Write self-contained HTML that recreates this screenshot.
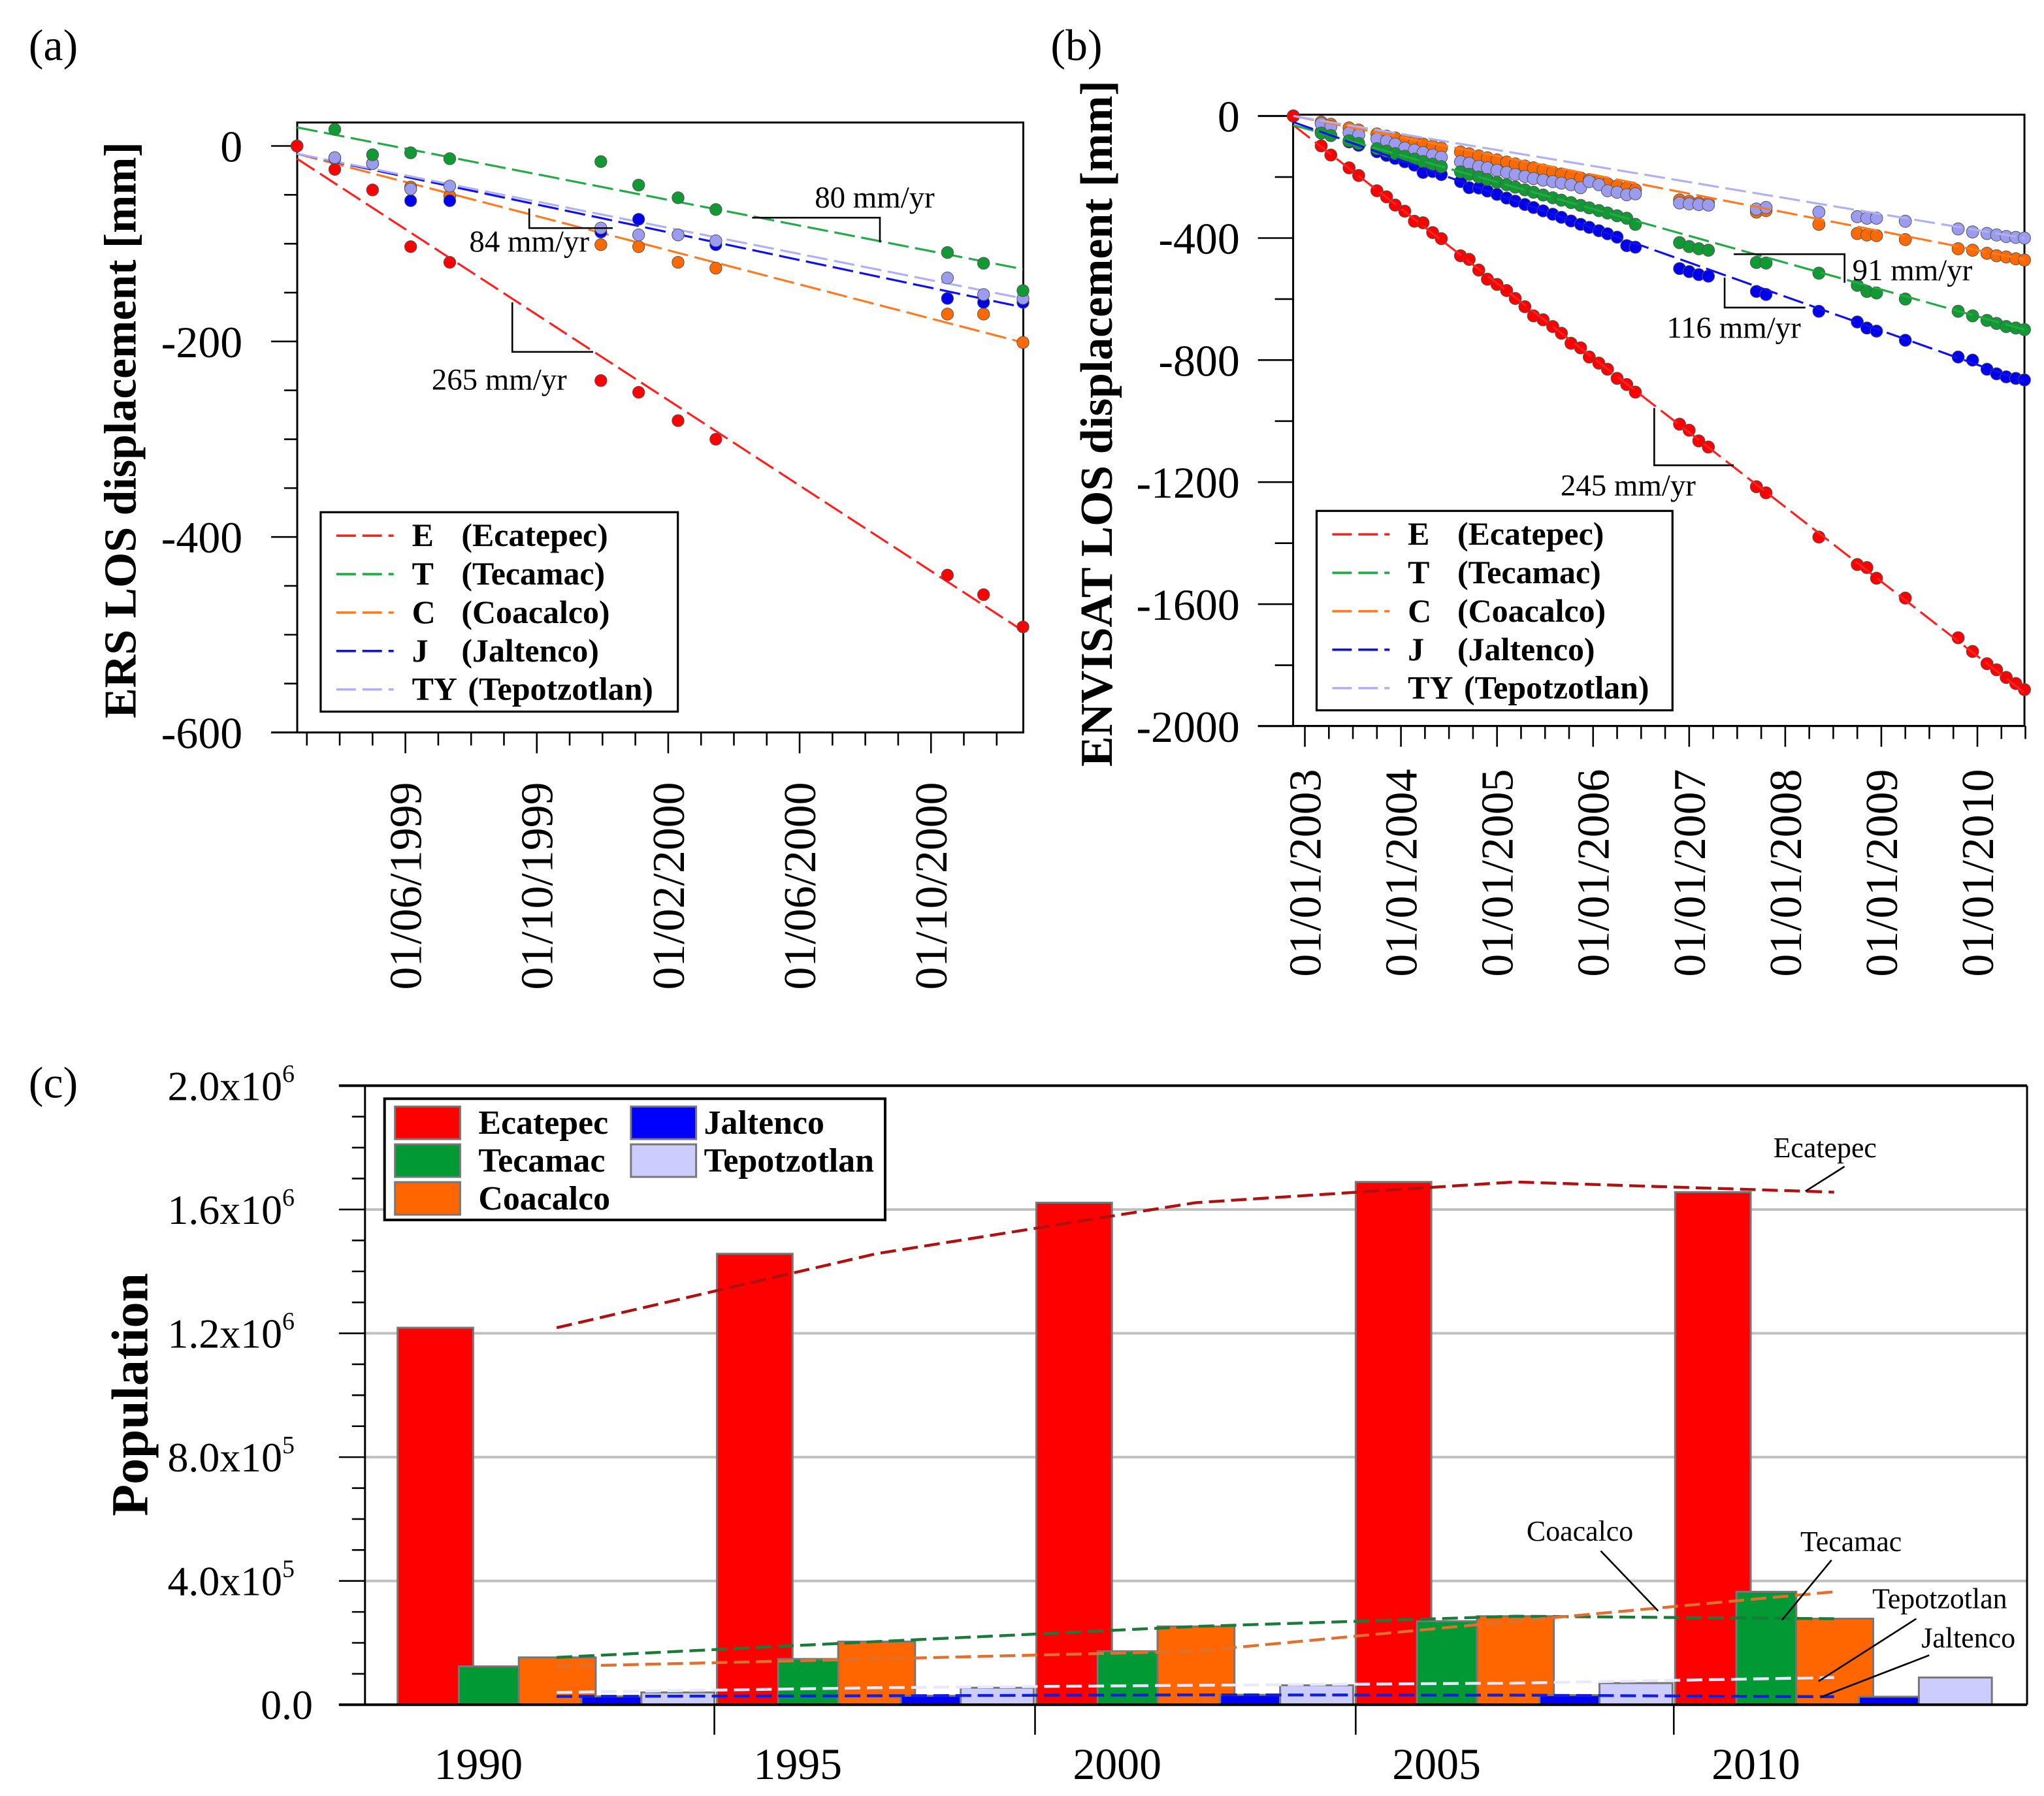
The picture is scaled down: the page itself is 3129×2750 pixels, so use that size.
<!DOCTYPE html>
<html><head><meta charset="utf-8"><style>
html,body{margin:0;padding:0;background:#fff}
svg{display:block}
text{font-family:"Liberation Serif",serif;fill:#000}
</style></head><body>
<svg id="fig" xmlns="http://www.w3.org/2000/svg" width="3129" height="2750" viewBox="0 0 1568 1378" preserveAspectRatio="none">
<text x="22" y="46" font-size="34">(a)</text>
<text x="806" y="46" font-size="34">(b)</text>
<text x="22" y="842" font-size="34">(c)</text>
<g id="ga"></g>
<g id="gb"></g>
<g id="gc"></g>
</svg>
<script>
// ---------- Panel (a) ERS data (months relative to 01/06/1999) ----------
const ersMonths = [-3.3,-2.15,-1.0,0.16,1.35,5.95,7.1,8.3,9.45,16.5,17.6,18.8];
const ersE = [0,-24,-45,-103,-119,-240,-252,-281,-300,-439,-459,-492];
const ersT = [0,17,-9,-7,-13,-16,-40,-53,-65,-109,-120,-148];
const ersC = [0,-12,-18,-42,-51,-101,-103,-119,-125,-172,-172,-201];
const ersJ = [0,-13,-18,-56,-56,-88,-75,-91,-101,-156,-160,-160];
const ersTY = [0,-12,-18,-44,-41,-84,-91,-91,-97,-135,-152,-156];
const ersFitStart = [-13,19,-8,-8,-8];
const ersFitEnd = [-496,-126,-201,-165,-156];
const ersYTicks = [0,-200,-400,-600];
const ersXTickLabels = ["01/06/1999","01/10/1999","01/02/2000","01/06/2000","01/10/2000"];
const ersXTickMonths = [0,4,8,12,16];

// ---------- Panel (b) ENVISAT data ----------
const envDates = [2002.88,2003.17,2003.27,2003.46,2003.56,2003.75,2003.85,2003.94,2004.04,2004.14,2004.23,2004.33,2004.42,2004.62,2004.71,2004.81,2004.90,2005.00,2005.10,2005.19,2005.29,2005.38,2005.48,2005.58,2005.67,2005.77,2005.87,2005.96,2006.06,2006.15,2006.25,2006.35,2006.44,2006.90,2007.00,2007.10,2007.20,2007.70,2007.80,2008.35,2008.75,2008.85,2008.95,2009.25,2009.80,2009.95,2010.10,2010.20,2010.30,2010.40,2010.49];
const envE = [0,-98,-128,-170,-195,-245,-265,-292,-312,-345,-350,-382,-402,-458,-470,-505,-535,-552,-572,-598,-625,-655,-668,-690,-712,-745,-760,-790,-810,-830,-860,-880,-905,-1010,-1030,-1065,-1085,-1215,-1235,-1380,-1470,-1480,-1515,-1580,-1710,-1755,-1795,-1815,-1840,-1860,-1880];
const envT = [0,-56,-64,-81,-90,-107,-115,-123,-132,-141,-149,-158,-166,-183,-191,-200,-208,-217,-225,-233,-242,-250,-259,-268,-276,-284,-293,-301,-310,-318,-327,-335,-355,-415,-428,-435,-440,-480,-482,-515,-555,-575,-580,-600,-640,-655,-670,-680,-690,-695,-700];
const envC = [0,-20,-27,-39,-46,-59,-66,-72,-79,-86,-92,-99,-105,-118,-124,-131,-137,-144,-151,-157,-164,-170,-177,-184,-190,-197,-203,-209,-216,-222,-229,-236,-242,-275,-280,-285,-285,-315,-310,-355,-385,-390,-392,-405,-435,-440,-450,-458,-462,-468,-472];
const envJ = [0,-52,-64,-85,-96,-117,-129,-139,-150,-161,-185,-182,-192,-215,-235,-236,-246,-257,-269,-279,-290,-300,-311,-322,-332,-344,-355,-365,-376,-386,-397,-425,-430,-500,-510,-520,-525,-575,-585,-640,-675,-695,-705,-735,-790,-800,-830,-845,-855,-860,-865];
const envTY = [0,-25,-35,-55,-62,-75,-82,-92,-105,-112,-120,-128,-135,-150,-155,-165,-170,-178,-185,-192,-198,-205,-210,-215,-220,-225,-235,-215,-225,-245,-250,-258,-255,-285,-288,-290,-292,-305,-300,-315,-330,-335,-335,-345,-370,-380,-385,-390,-395,-398,-400];
const envFitStart = [-30,-30,0,-20,0];
const envFitEnd = [-1890,-700,-470,-870,-400];
const envYTicks = [0,-400,-800,-1200,-1600,-2000];
const envXTickYears = [2003,2004,2005,2006,2007,2008,2009,2010];

// ---------- Panel (c) population ----------
const popYears = ["1990","1995","2000","2005","2010"];
const popE = [1218000,1457000,1622000,1689000,1656000];
const popT = [124000,148000,173000,270000,365000];
const popC = [153000,204000,253000,286000,278000];
const popJ = [27000,29000,32000,31000,26000];
const popTY = [40000,55000,63000,70000,88000];
const popYTicks = [0,400000,800000,1200000,1600000,2000000];
const popYTickLabels = [["0.0",""],["4.0x10","5"],["8.0x10","5"],["1.2x10","6"],["1.6x10","6"],["2.0x10","6"]];

const NS="http://www.w3.org/2000/svg";
function mk(parent,tag,attrs,txt){const e=document.createElementNS(NS,tag);for(const k in attrs)e.setAttribute(k,attrs[k]);if(txt!==undefined)e.textContent=txt;parent.appendChild(e);return e;}
const colors={E:"#ff0000",T:"#119933",C:"#ff6a00",J:"#0000ee",TY:"#9b9bef"};
const fitColors={E:"#ff2020",T:"#22aa44",C:"#ff7a20",J:"#1010ee",TY:"#b0b0f5"};
const keys=["E","T","C","J","TY"];

function legend(g,x,y,w,h,pfx){
 const box=mk(g,'rect',{x:x,y:y,width:w,height:h,fill:'#fff',stroke:'#000','stroke-width':1.6});
 
 const labels=[["E","(Ecatepec)"],["T","(Tecamac)"],["C","(Coacalco)"],["J","(Jaltenco)"],["TY","(Tepotzotlan)"]];
 labels.forEach((l,i)=>{const yy=y+18+i*29.5;
  mk(g,'line',{x1:x+12,y1:yy,x2:x+56,y2:yy,stroke:fitColors[keys[i]],'stroke-width':1.8,'stroke-dasharray':'15 5'});
  const t=mk(g,'text',{x:x+70,y:yy+8,'font-size':25,'font-weight':'bold'},'');
  mk(t,'tspan',{},l[0]);mk(t,'tspan',{x:l[0]==='TY'?x+122:x+108},l[1]);
  if(l[0]==='TY'){t.firstChild.nextSibling.setAttribute('x',x+113);}
  });
}

// ===== Panel A =====
(function(){
 const g=document.getElementById('ga');
 const L=228,R=785,T=94,B=562;
 const xA=m=>311+m*25.2;
 const yA=v=>112-v*0.75;
 const fr=mk(g,'rect',{x:L,y:T,width:R-L,height:B-T,fill:'none',stroke:'#000','stroke-width':1.5});
 
 mk(g,'line',{x1:208,y1:B,x2:R,y2:B,stroke:'#000','stroke-width':1.5});
 for(let v=-600;v<=0;v+=50){const major=v%200===0;mk(g,'line',{x1:major?208:218,y1:yA(v),x2:L,y2:yA(v),stroke:'#000','stroke-width':1.3});}
 ersYTicks.forEach(v=>{const t=mk(g,'text',{x:186,y:yA(v)+12,'font-size':34,'text-anchor':'end'},String(v));
  });
 for(let m=-3;m<=18;m++){const major=(m%4===0);mk(g,'line',{x1:xA(m),y1:B,x2:xA(m),y2:B+(major?16:10),stroke:'#000','stroke-width':1.3});}
 ersXTickLabels.forEach((s,i)=>{const x=xA(ersXTickMonths[i]);const t=mk(g,'text',{x:0,y:0,'font-size':35,'text-anchor':'end',transform:`translate(${x+12},${600}) rotate(-90)`},s);
  });
 const yl=mk(g,'text',{x:0,y:0,'font-size':35,'font-weight':'bold','text-anchor':'middle',transform:'translate(104,330) rotate(-90)'},'ERS LOS displacement [mm]');
 
 const series={E:ersE,T:ersT,C:ersC,J:ersJ,TY:ersTY};
 const mx0=ersMonths[0],mx1=ersMonths[ersMonths.length-1];
 keys.forEach((k,i)=>{
  const ln=mk(g,'line',{x1:xA(mx0),y1:yA(ersFitStart[i]),x2:xA(mx1),y2:yA(ersFitEnd[i]),stroke:fitColors[k],'stroke-width':1.6,'stroke-dasharray':'16 5'});
  
 });
 ['C','J','TY','T','E'].forEach(k=>{series[k].forEach((v,j)=>{const c=mk(g,'circle',{cx:xA(ersMonths[j]),cy:yA(v),r:4.6,fill:colors[k],stroke:'#555','stroke-width':0.5});
  });});
 mk(g,'polyline',{points:'393,232 393,270 455,270',fill:'none',stroke:'#000','stroke-width':1.3});
 mk(g,'polyline',{points:'406,160 406,175 470,175',fill:'none',stroke:'#000','stroke-width':1.3});
 mk(g,'polyline',{points:'577,167 675,167 675,186',fill:'none',stroke:'#000','stroke-width':1.3});
 const a1=mk(g,'text',{x:383,y:299,'font-size':23.5,'text-anchor':'middle'},'265 mm/yr');
 const a2=mk(g,'text',{x:406,y:193,'font-size':23.5,'text-anchor':'middle'},'84 mm/yr');
 const a3=mk(g,'text',{x:671,y:159,'font-size':23.5,'text-anchor':'middle'},'80 mm/yr');
 legend(g,246,393,274,153,'ers');
})();

// ===== Panel B =====
(function(){
 const g=document.getElementById('gb');
 const L=992,R=1553,T=88,B=557;
 const xB=t=>1001+(t-2003)*73.7;
 const yB=v=>89-v*0.2341;
 const fr=mk(g,'rect',{x:L,y:T,width:R-L,height:B-T,fill:'none',stroke:'#000','stroke-width':1.5});
 
 mk(g,'line',{x1:965,y1:B,x2:R,y2:B,stroke:'#000','stroke-width':1.5});
 mk(g,'line',{x1:965,y1:yB(0),x2:L,y2:yB(0),stroke:'#000','stroke-width':1.5});
 for(let v=-2000;v<=0;v+=200){const major=v%400===0;mk(g,'line',{x1:major?965:978,y1:yB(v),x2:L,y2:yB(v),stroke:'#000','stroke-width':1.3});}
 envYTicks.forEach(v=>{const t=mk(g,'text',{x:951,y:yB(v)+12,'font-size':34,'text-anchor':'end'},String(v));
  });
 for(let t=2003;t<=2010.5;t+=0.25){const major=Math.abs(t-Math.round(t))<1e-6;mk(g,'line',{x1:xB(t),y1:B,x2:xB(t),y2:B+(major?16:10),stroke:'#000','stroke-width':1.3});}
 envXTickYears.forEach(yr=>{const x=xB(yr);const t=mk(g,'text',{x:0,y:0,'font-size':35,'text-anchor':'end',transform:`translate(${x+12},${590}) rotate(-90)`},'01/01/'+yr);
  });
 const yl=mk(g,'text',{x:0,y:0,'font-size':35,'font-weight':'bold','text-anchor':'middle',transform:'translate(853,325) rotate(-90)'},'ENVISAT LOS displacement [mm]');
 
 const series={E:envE,T:envT,C:envC,J:envJ,TY:envTY};
 const t0=envDates[0],t1=envDates[envDates.length-1];
 ['C','J','TY','T','E'].forEach(k=>{series[k].forEach((v,j)=>{const c=mk(g,'circle',{cx:xB(envDates[j]),cy:yB(v),r:4.7,fill:colors[k],stroke:'#555','stroke-width':0.5});
  });});
 keys.forEach((k,i)=>{
  const ln=mk(g,'line',{x1:xB(t0),y1:yB(envFitStart[i]),x2:xB(t1),y2:yB(envFitEnd[i]),stroke:fitColors[k],'stroke-width':1.6,'stroke-dasharray':'16 5'});
  
 });
 mk(g,'polyline',{points:'1330,195 1415,195 1415,217',fill:'none',stroke:'#000','stroke-width':1.3});
 mk(g,'polyline',{points:'1323,213 1323,236 1385,236',fill:'none',stroke:'#000','stroke-width':1.3});
 mk(g,'polyline',{points:'1269,313 1269,357 1330,357',fill:'none',stroke:'#000','stroke-width':1.3});
 const a1=mk(g,'text',{x:1467,y:215,'font-size':23.5,'text-anchor':'middle'},'91 mm/yr');
 const a2=mk(g,'text',{x:1330,y:259,'font-size':23.5,'text-anchor':'middle'},'116 mm/yr');
 const a3=mk(g,'text',{x:1249,y:380,'font-size':23.5,'text-anchor':'middle'},'245 mm/yr');
 legend(g,1010,392,273,153,'envisat');
})();

// ===== Panel C =====
(function(){
 const g=document.getElementById('gc');
 const L=260,AX=280,R=1555,T=833,B=1308;
 const yC=v=>B-v*237.5/1e6;
 [400000,800000,1200000,1600000].forEach(v=>{const gl=mk(g,'line',{x1:AX,y1:yC(v),x2:R,y2:yC(v),stroke:'#c0c0c0','stroke-width':2});
  });
 mk(g,'line',{x1:L,y1:T,x2:R,y2:T,stroke:'#000','stroke-width':2});
 mk(g,'line',{x1:R,y1:T,x2:R,y2:B,stroke:'#000','stroke-width':1.5});
 mk(g,'line',{x1:AX,y1:T,x2:AX,y2:B,stroke:'#000','stroke-width':1.5});
 for(let v=0;v<=2000000;v+=100000){const major=v%400000===0;mk(g,'line',{x1:major?L:270,y1:yC(v),x2:AX,y2:yC(v),stroke:'#000','stroke-width':1.3});}
 popYTicks.forEach((v,i)=>{const t=mk(g,'text',{x:i===0?240:226,y:yC(v)+11,'font-size':32,'text-anchor':'end'},popYTickLabels[i][0]);
  if(popYTickLabels[i][1]){mk(t,'tspan',{dy:-14,'font-size':19},popYTickLabels[i][1]);}
  });
 const yl=mk(g,'text',{x:0,y:0,'font-size':40,'font-weight':'bold','text-anchor':'middle','font-family':'Liberation Sans, sans-serif',transform:'translate(113,1070) rotate(-90)'},'Population');
 
 const groupStart=i=>305+i*245;
 const offs={E:[0,58],T:[47,46],C:[93,59],J:[141,46],TY:[187,56]};
 const series={E:popE,T:popT,C:popC,J:popJ,TY:popTY};
 const barCols={E:"#ff0000",T:"#009933",C:"#ff6600",J:"#0000ff",TY:"#ccccff"};
 ['E','T','C','J','TY'].forEach(k=>{series[k].forEach((v,i)=>{
  const r=mk(g,'rect',{x:groupStart(i)+offs[k][0],y:yC(v),width:offs[k][1],height:B-yC(v),fill:barCols[k],stroke:'#777','stroke-width':1.5});
  
 });});
 mk(g,'line',{x1:L,y1:B,x2:R,y2:B,stroke:'#000','stroke-width':2});
 [548,794,1040,1284].forEach(x=>mk(g,'line',{x1:x,y1:B,x2:x,y2:B+23,stroke:'#000','stroke-width':1.3}));
 popYears.forEach((y,i)=>{const t=mk(g,'text',{x:groupStart(i)+62,y:1365,'font-size':34,'text-anchor':'middle'},y);
  });
 const lineX=i=>groupStart(i)+122;
 const trends=[[popE,'#b01010'],[popC,'#1a7a3a'],[popT,'#e07030'],[popTY,'#e8e8ff'],[popJ,'#1020dd']];
 const tn=['ecatepec','tecamac','coacalco','tepotzotlan','jaltenco'];
 trends.forEach((tr,j)=>{const pts=tr[0].map((v,i)=>lineX(i)+','+yC(v)).join(' ');
  const p=mk(g,'polyline',{points:pts,fill:'none',stroke:tr[1],'stroke-width':2.2,'stroke-dasharray':'12 5'});
  });
 const ann=[["Ecatepec",1400,888,"1415,895 1385,914"],["Coacalco",1212,1182,"1228,1190 1272,1236"],["Tecamac",1420,1190,"1405,1197 1367,1243"],["Tepotzotlan",1488,1234,"1470,1242 1395,1290"],["Jaltenco",1510,1264,"1480,1270 1397,1302"]];
 ann.forEach(a=>{mk(g,'polyline',{points:a[3],fill:'none',stroke:'#000','stroke-width':1.3});
  const t=mk(g,'text',{x:a[1],y:a[2],'font-size':22,'text-anchor':'middle'},a[0]);
  });
 const lb=mk(g,'rect',{x:295,y:843,width:384,height:93,fill:'#fff',stroke:'#000','stroke-width':2});
 
 const le=[["Ecatepec","E",303,861],["Tecamac","T",303,890],["Coacalco","C",303,919],["Jaltenco","J",484,861],["Tepotzotlan","TY",484,890]];
 le.forEach(e=>{mk(g,'rect',{x:e[2],y:e[3]-12,width:50,height:25,fill:barCols[e[1]],stroke:'#777','stroke-width':1.5});
  const t=mk(g,'text',{x:e[2]+(e[1]==='J'||e[1]==='TY'?56:64),y:e[3]+9,'font-size':26,'font-weight':'bold'},e[0]);
  });
})();
</script>
</body></html>
